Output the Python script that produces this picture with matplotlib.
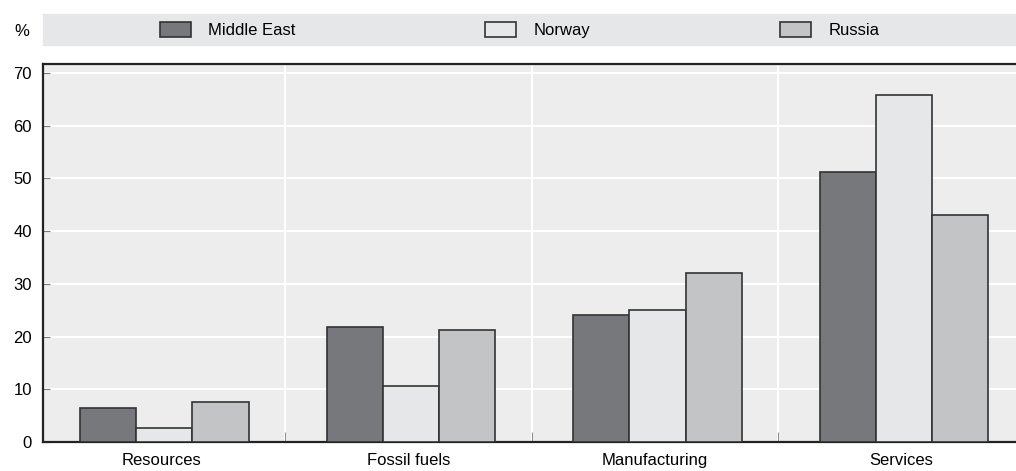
import numpy as np
import matplotlib
matplotlib.use('Agg')
import matplotlib.pyplot as plt
from matplotlib.patches import Rectangle

categories = ['Resources', 'Fossil fuels', 'Manufacturing', 'Services']
series_names = ['Middle East', 'Norway', 'Russia']
middle_east = [6.4, 21.8, 24.0, 51.3]
norway = [2.6, 10.6, 25.1, 65.9]
russia = [7.6, 21.2, 32.0, 43.0]
y_ticks = [0, 10, 20, 30, 40, 50, 60, 70]

colors = ['#77787b', '#e6e7e9', '#c3c4c6']
edge = '#333333'

plt.rcParams['font.family'] = ['Liberation Sans Narrow', 'Liberation Sans', 'DejaVu Sans']

W, H = 1016, 471
fig = plt.figure(figsize=(W / 100, H / 100), dpi=100)
ax = fig.add_axes([43 / W, (H - 442) / H, 1 - 43 / W, (442 - 64) / H])
ax.set_facecolor('#ededed')

x = np.arange(len(categories))
width = 0.228
offset = 0.01  # groups sit a touch right of the category centre
values = [middle_east, norway, russia]
for i, (name, vals) in enumerate(zip(series_names, values)):
    ax.bar(x + offset + (i - 1) * width, vals, width, color=colors[i], edgecolor=edge,
           linewidth=1.2, label=name, zorder=3)

ax.set_xlim(-0.482, 3.464)
ax.set_ylim(0.5, 71.7)
ax.set_yticks(y_ticks)
ax.set_xticks(x)
ax.set_xticklabels(categories, fontsize=12)
ax.set_xticks(x[:-1] + 0.5, minor=True)
ax.tick_params(axis='y', direction='in', length=5, color='#777777', labelsize=12, pad=8)
ax.tick_params(axis='x', which='major', length=0, labelsize=12, pad=8)
ax.tick_params(axis='x', which='minor', direction='in', length=7, color='#777777')
ax.grid(axis='y', color='white', linewidth=1.5, zorder=1)
ax.grid(axis='x', which='minor', color='white', linewidth=1.5, zorder=1)
ax.set_axisbelow(True)

for s in ['top', 'left', 'bottom']:
    ax.spines[s].set_color('#222222')
    ax.spines[s].set_linewidth(1.6)
ax.spines['right'].set_visible(False)

# legend band
fig.patches.append(Rectangle((43 / W, (H - 45) / H), 1 - 43 / W, 31 / H,
                             transform=fig.transFigure, color='#e6e7e8', zorder=0))
fs = 12 * 100 / 72
handles, labels = ax.get_legend_handles_labels()
fig.legend(handles, labels, loc='center left', bbox_to_anchor=(160 / W, (H - 30) / H),
           ncol=3, frameon=False, fontsize=12, borderpad=0, borderaxespad=0,
           handlelength=31 / fs, handleheight=16 / fs, handletextpad=17 / fs,
           columnspacing=190 / fs)
fig.text(14 / W, (H - 31) / H, '%', fontsize=12, va='center', ha='left')

fig.savefig('out.png', dpi=100)
